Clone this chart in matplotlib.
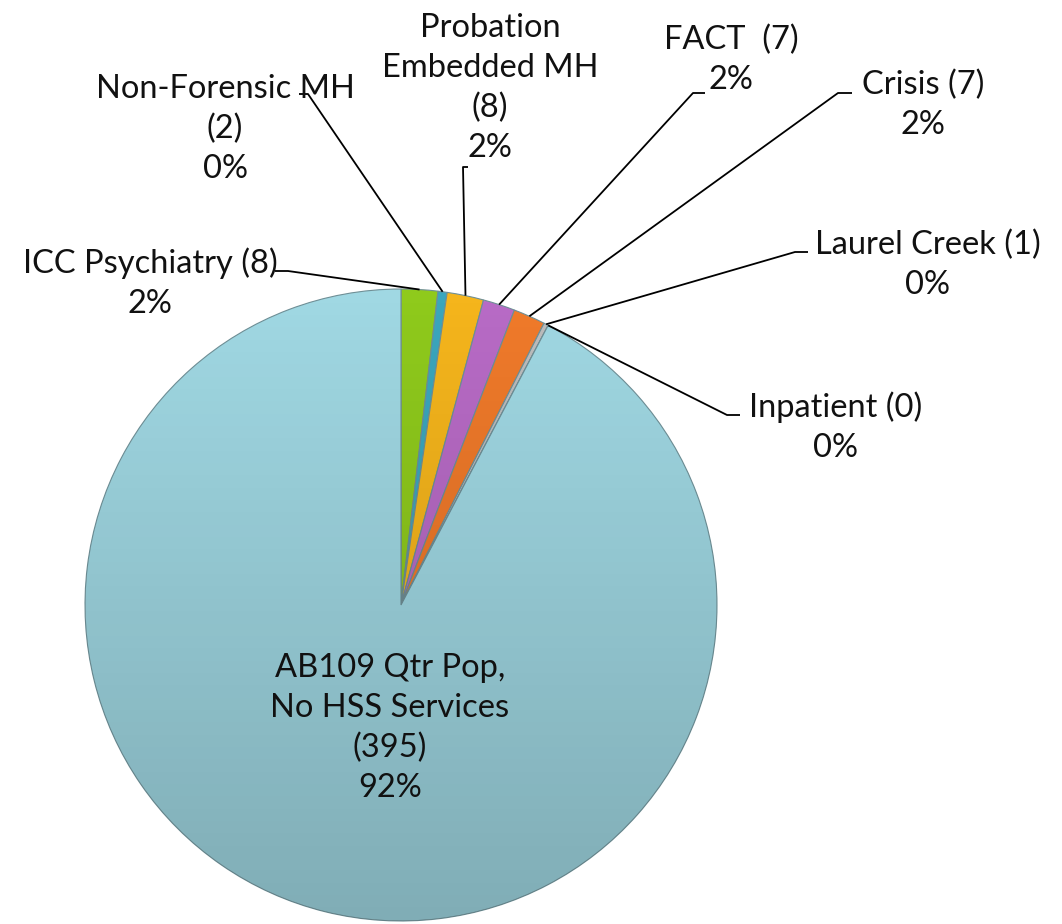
#!/usr/bin/env python3
"""Pie chart: AB109 quarter population by HSS service."""

import numpy as np
import matplotlib
matplotlib.use("Agg")
import matplotlib.pyplot as plt
from matplotlib.patches import Circle

# data
services = [
    "ICC Psychiatry",
    "Non-Forensic MH",
    "Probation\nEmbedded MH",
    "FACT ",
    "Crisis",
    "Laurel Creek",
    "Inpatient",
    "AB109 Qtr Pop,\nNo HSS Services",
]
counts = [8, 2, 8, 7, 7, 1, 0, 395]
colors = ["#8fca1c", "#3ba6bd", "#f5b51c", "#b86bc6", "#f07a2a", "#bdbdbd", "#9a9a9a", "#a0d8e3"]

# layout (pixel coords, y measured from the top)
W, H = 1062, 924
center = (401, 605)
radius = 316
label_pos = [(150, 283), (225, 129), (490, 88), (731, 60), (923, 105), (928, 265), (836, 427), (390, 728)]
one_line = [True, False, False, True, True, True, True, False]
elbows = [(288, 271, 275), (308, 94, 299), (463, 167, 468), (693, 93, 705),
          (838, 93, 852), (795, 252, 808), (727, 415, 740), None]

plt.rcParams["font.family"] = ["Lato", "DejaVu Sans"]

fig = plt.figure(figsize=(W / 100, H / 100), dpi=100)
ax = fig.add_axes([0, 0, 1, 1])

cx, cy = center[0], H - center[1]
wedges, _ = ax.pie(
    counts,
    colors=colors,
    startangle=90,
    counterclock=False,
    radius=radius,
    center=(cx, cy),
    frame=True,
    wedgeprops=dict(edgecolor="#6f8f96", linewidth=0.8),
)

# soft vertical shading over the pie
grad = np.linspace(0, 1, 256).reshape(-1, 1)
shade = np.zeros((256, 1, 4))
shade[..., 3] = 0.2 * grad[::-1]
img = ax.imshow(shade, extent=(cx - radius, cx + radius, cy - radius, cy + radius),
                origin="lower", aspect="auto", zorder=3)
img.set_clip_path(Circle((cx, cy), radius, transform=ax.transData))

ax.set_xlim(0, W)
ax.set_ylim(0, H)
ax.set_aspect("equal")
ax.axis("off")

total = sum(counts)
for i, (name, n) in enumerate(zip(services, counts)):
    pct = f"{round(n / total * 100)}%"
    if one_line[i]:
        txt = f"{name} ({n})\n{pct}"
    else:
        txt = f"{name}\n({n})\n{pct}"
    x, y = label_pos[i]
    ax.text(x, H - y, txt, ha="center", va="center", fontsize=23.5,
            linespacing=1.4, color="#111111", zorder=5)

    if elbows[i] is None:
        continue
    w = wedges[i]
    mid = np.deg2rad((w.theta1 + w.theta2) / 2)
    px = cx + radius * np.cos(mid)
    py = cy + radius * np.sin(mid)
    ex, ey, sx = elbows[i]
    ax.plot([px, ex, sx], [py, H - ey, H - ey], color="black", lw=1.3, zorder=4,
            solid_capstyle="butt")

fig.savefig("out.png", dpi=100, facecolor="white")
